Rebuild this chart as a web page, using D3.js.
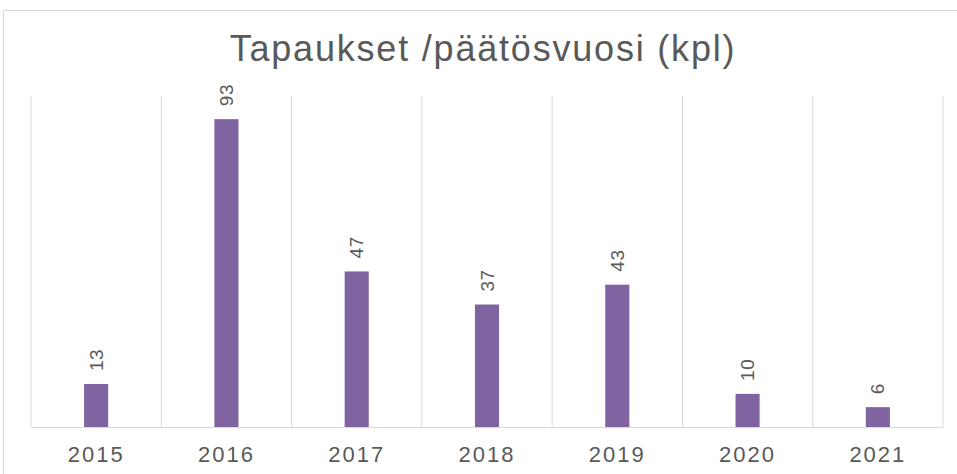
<!DOCTYPE html>
<html>
<head>
<meta charset="utf-8">
<script src="https://cdn.jsdelivr.net/npm/d3@7"></script>
<style>
  body { margin: 0; background: #fff; }
  text { font-family: "Liberation Sans", Arial, sans-serif; fill: #595959; }
</style>
</head>
<body>
<svg width="957" height="474"></svg>
<script>
const years = ['2015', '2016', '2017', '2018', '2019', '2020', '2021'];
const cases = [13, 93, 47, 37, 43, 10, 6];
const yTicks = [0, 100];

const svg = d3.select('svg'),
    width = +svg.attr('width'),
    height = +svg.attr('height');

const margin = {top: 96, right: 14, bottom: 47, left: 31};

// chart frame
svg.append('rect')
    .attr('x', 3.5)
    .attr('y', 10.5)
    .attr('width', width + 10)
    .attr('height', height + 10)
    .attr('fill', 'none')
    .attr('stroke', '#d9d9d9');

svg.append('text')
    .attr('x', 483)
    .attr('y', 61)
    .attr('text-anchor', 'middle')
    .style('font-size', '36px')
    .style('letter-spacing', '1.8px')
    .text('Tapaukset /päätösvuosi (kpl)');

const x = d3.scaleBand()
    .domain(years)
    .range([margin.left, width - margin.right]);

const y = d3.scaleLinear()
    .domain(d3.extent(yTicks))
    .range([height - margin.bottom, margin.top]);

// vertical separators between categories
const edges = years.map(d => x(d)).concat([x.range()[1]]);
svg.append('g')
    .selectAll('line')
    .data(edges)
    .enter()
    .append('line')
    .attr('x1', d => d)
    .attr('x2', d => d)
    .attr('y1', y(100))
    .attr('y2', y(0))
    .attr('stroke', '#d9d9d9')
    .attr('stroke-width', 1);

const barW = x.bandwidth() * 0.185;

svg.append('g')
    .selectAll('rect')
    .data(cases)
    .enter()
    .append('rect')
    .attr('x', (d, i) => x(years[i]) + x.bandwidth() / 2 - barW / 2)
    .attr('y', d => y(d))
    .attr('width', barW)
    .attr('height', d => y(0) - y(d))
    .attr('fill', '#8064a2');

svg.append('g')
    .selectAll('text')
    .data(cases)
    .enter()
    .append('text')
    .attr('transform', (d, i) => `translate(${x(years[i]) + x.bandwidth() / 2 + 6.5},${y(d) - 13}) rotate(-90)`)
    .style('font-size', '19px')
    .style('letter-spacing', '0.5px')
    .text(d => d);

// x axis
const xAxis = svg.append('g')
    .attr('transform', `translate(0,${y(0)})`)
    .call(d3.axisBottom(x).tickSize(0).tickPadding(19));

xAxis.select('.domain').attr('stroke', '#d9d9d9');
xAxis.selectAll('text')
    .style('font-size', '22px')
    .style('letter-spacing', '2px')
    .style('font-family', '"Liberation Sans", Arial, sans-serif')
    .attr('fill', '#595959');
</script>
</body>
</html>
